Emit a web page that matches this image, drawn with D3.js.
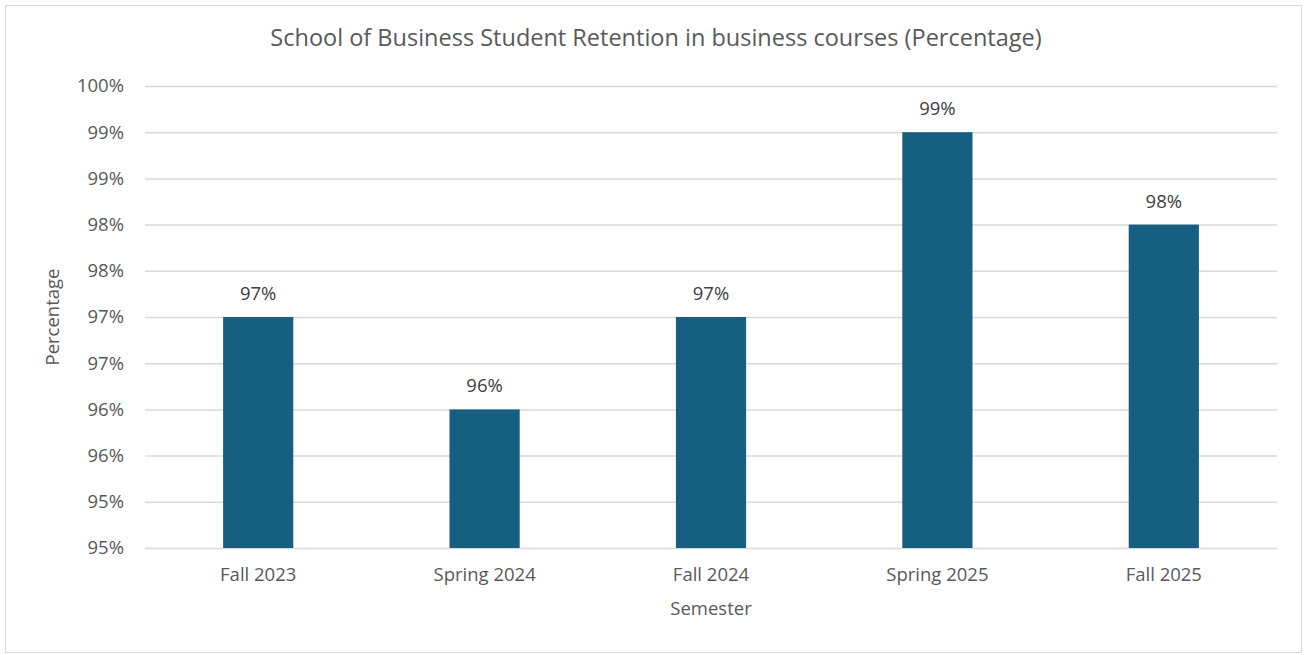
<!DOCTYPE html>
<html>
<head>
<meta charset="utf-8">
<script src="https://cdn.jsdelivr.net/npm/d3@7"></script>
<style>
  html, body { margin: 0; padding: 0; background: #fff; }
  svg { display: block; font-family: "Open Sans", "Noto Sans", sans-serif; }
</style>
</head>
<body>
<svg id="chart" width="1307" height="655"></svg>
<script>
// chart data
const semesters = ['Fall 2023', 'Spring 2024', 'Fall 2024', 'Spring 2025', 'Fall 2025'];
const retention = [0.975, 0.965, 0.975, 0.995, 0.985];
const valueLabels = ['97%', '96%', '97%', '99%', '98%'];
const yTicks = [0.95, 0.955, 0.96, 0.965, 0.97, 0.975, 0.98, 0.985, 0.99, 0.995, 1.0];
const yTickLabels = ['95%', '95%', '96%', '96%', '97%', '97%', '98%', '98%', '99%', '99%', '100%'];

const W = 1307, H = 655;
const margin = { top: 86, right: 30, bottom: 107, left: 145 };
const innerW = W - margin.left - margin.right;
const innerH = H - margin.top - margin.bottom;
const FS = 18.5;

const svg = d3.select('#chart');

// outer frame
svg.append('rect')
  .attr('x', 5.5).attr('y', 5.5)
  .attr('width', W - 11).attr('height', H - 8)
  .attr('fill', '#fff').attr('stroke', '#d9d9d9').attr('stroke-width', 1);

svg.append('text')
  .attr('x', 656).attr('y', 46)
  .attr('text-anchor', 'middle')
  .attr('font-size', 23.5).attr('fill', '#595959')
  .text('School of Business Student Retention in business courses (Percentage)');

const g = svg.append('g').attr('transform', `translate(${margin.left},${margin.top})`);

const x = d3.scaleBand().domain(semesters).range([0, innerW]).paddingInner(0.69).paddingOuter(0.345);
const y = d3.scaleLinear().domain([0.95, 1.0]).range([innerH, 0]);

// gridlines
g.append('g').attr('class', 'grid')
  .call(d3.axisLeft(y).tickValues(yTicks).tickSize(-innerW).tickFormat(''))
  .call(s => s.select('.domain').remove())
  .call(s => s.selectAll('line').attr('stroke', '#d9d9d9').attr('stroke-width', 1.5));

// y tick labels
g.append('g')
  .call(d3.axisLeft(y).tickValues(yTicks).tickSize(0).tickPadding(21)
    .tickFormat((d, i) => yTickLabels[i]))
  .call(s => s.select('.domain').remove())
  .call(s => s.selectAll('text').attr('font-size', FS).attr('fill', '#595959')
    .attr('font-family', '"Open Sans", "Noto Sans", sans-serif'));

// bars
g.append('g').selectAll('rect').data(semesters).join('rect')
  .attr('x', d => x(d))
  .attr('width', x.bandwidth())
  .attr('y', (d, i) => y(retention[i]))
  .attr('height', (d, i) => innerH - y(retention[i]))
  .attr('fill', '#175f80');

// value labels
g.append('g').selectAll('text').data(semesters).join('text')
  .attr('x', d => x(d) + x.bandwidth() / 2)
  .attr('y', (d, i) => y(retention[i]) - 17)
  .attr('text-anchor', 'middle')
  .attr('font-size', FS).attr('fill', '#404040')
  .text((d, i) => valueLabels[i]);

// x axis labels
g.append('g').attr('transform', `translate(0,${innerH})`)
  .call(d3.axisBottom(x).tickSize(0).tickPadding(20))
  .call(s => s.select('.domain').remove())
  .call(s => s.selectAll('text').attr('font-size', FS).attr('fill', '#595959')
    .attr('font-family', '"Open Sans", "Noto Sans", sans-serif'));

// axis titles
svg.append('text')
  .attr('x', margin.left + innerW / 2).attr('y', 615)
  .attr('text-anchor', 'middle')
  .attr('font-size', FS).attr('fill', '#595959')
  .text('Semester');

svg.append('text')
  .attr('transform', `translate(59,${margin.top + innerH / 2}) rotate(-90)`)
  .attr('text-anchor', 'middle')
  .attr('font-size', FS).attr('fill', '#595959')
  .text('Percentage');
</script>
</body>
</html>
